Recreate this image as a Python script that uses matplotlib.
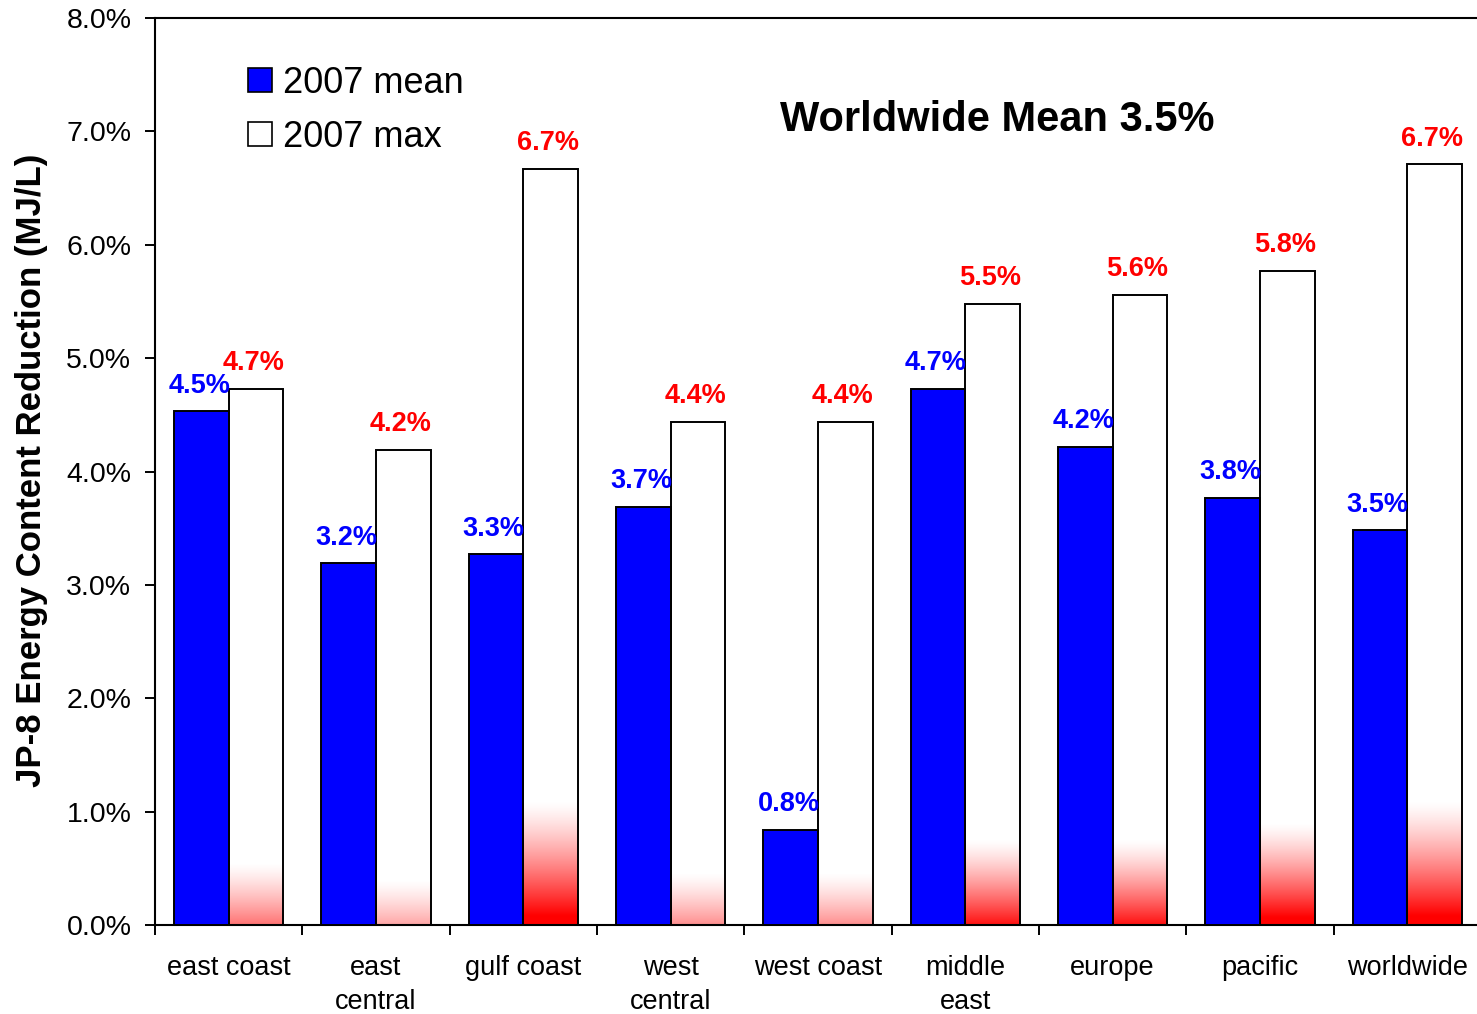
import numpy as np
import matplotlib
matplotlib.use("Agg")
import matplotlib.pyplot as plt
from matplotlib.patches import Patch
from matplotlib.ticker import FixedLocator, FuncFormatter

plt.rcParams['font.family'] = ['Liberation Sans', 'DejaVu Sans']

categories = ["east coast", "east\ncentral", "gulf coast", "west\ncentral", "west coast",
              "middle\neast", "europe", "pacific", "worldwide"]
mean_2007 = [4.53, 3.19, 3.27, 3.69, 0.84, 4.73, 4.22, 3.77, 3.48]
max_2007 = [4.73, 4.19, 6.67, 4.44, 4.44, 5.48, 5.56, 5.77, 6.71]
series_names = ["2007 mean", "2007 max"]
title_text = "Worldwide Mean 3.5%"
ylabel_text = "JP-8 Energy Content Reduction (MJ/L)"

# style: red shading at the foot of the white bars (height in axis units, strength)
shade_height = [0.55, 0.40, 1.10, 0.46, 0.46, 0.75, 0.75, 0.90, 1.10]
shade_strength = [0.50, 0.32, 1.00, 0.40, 0.40, 0.85, 0.85, 1.00, 1.00]

W, H = 1477, 1014
fig = plt.figure(figsize=(W / 100, H / 100), dpi=100)
ax = fig.add_axes([155 / W, 1 - 925 / H, 1326 / W, (925 - 18) / H])

x = np.arange(len(categories))
bw = 0.372

ax.bar(x - bw / 2, mean_2007, bw, color="#0000ff", edgecolor="black", linewidth=1.4, zorder=3)
ax.bar(x + bw / 2, max_2007, bw, color="white", edgecolor="none", zorder=2)

# gradients
n = 200
for i in range(len(categories)):
    t = np.linspace(0, 1, n)  # 0 at top of gradient, 1 at bottom
    a = np.clip(shade_strength[i] * (t * 1.08) ** 1.3, 0, 1)
    img = np.zeros((n, 1, 4))
    img[:, 0, 0] = 1.0
    img[:, 0, 3] = a
    ax.imshow(img, extent=[x[i], x[i] + bw, 0, shade_height[i]], aspect="auto",
              origin="upper", zorder=2.5, interpolation="bilinear")

ax.bar(x + bw / 2, max_2007, bw, fill=False, edgecolor="black", linewidth=1.4, zorder=3)

for i in range(len(categories)):
    ax.annotate(f"{mean_2007[i]:.1f}%", (x[i] - bw / 2, mean_2007[i]), xytext=(-1.5, 13.3),
                textcoords="offset points", ha="center", va="baseline",
                color="#0000ff", fontsize=19.5, fontweight="bold", zorder=5)
    ax.annotate(f"{max_2007[i]:.1f}%", (x[i] + bw / 2, max_2007[i]), xytext=(-2, 13.3),
                textcoords="offset points", ha="center", va="baseline",
                color="#ff0000", fontsize=19.5, fontweight="bold", zorder=5)

ax.set_xlim(-0.5, len(categories) - 0.5)
ax.set_ylim(0, 8)
ax.set_yticks(np.arange(0, 8.01, 1))
ax.yaxis.set_major_formatter(FuncFormatter(lambda v, p: f"{v:.1f}%"))
ax.set_xticks(x)
ax.set_xticklabels(categories, fontsize=19.5, linespacing=1.4)
ax.xaxis.set_minor_locator(FixedLocator(np.arange(-0.5, len(categories) + 0.5, 1)))
ax.tick_params(axis="x", which="major", length=0, pad=21.5)
ax.tick_params(axis="x", which="minor", length=7, width=1.4, direction="out")
ax.tick_params(axis="y", which="major", length=7, width=1.4, direction="out", pad=10, labelsize=20.5)
for s in ["left", "top", "bottom"]:
    ax.spines[s].set_linewidth(1.5)
ax.spines["right"].set_visible(False)

handles = [Patch(facecolor="#0000ff", edgecolor="black", linewidth=1.2),
           Patch(facecolor="white", edgecolor="black", linewidth=1.2)]
leg = fig.legend(handles, series_names, loc="upper left", bbox_to_anchor=(248 / W, 1 - 66 / H),
                 frameon=False, fontsize=26, handlelength=0.66, handleheight=0.66,
                 handletextpad=0.3, labelspacing=0.52, borderpad=0, borderaxespad=0)

fig.text(997 / W, 1 - 120 / H, title_text, ha="center", va="center", fontsize=30, fontweight="bold")
fig.text(32 / W, 1 - 470 / H, ylabel_text, ha="center", va="center", rotation=90,
         fontsize=25, fontweight="bold")

fig.savefig("out.png", dpi=100)
